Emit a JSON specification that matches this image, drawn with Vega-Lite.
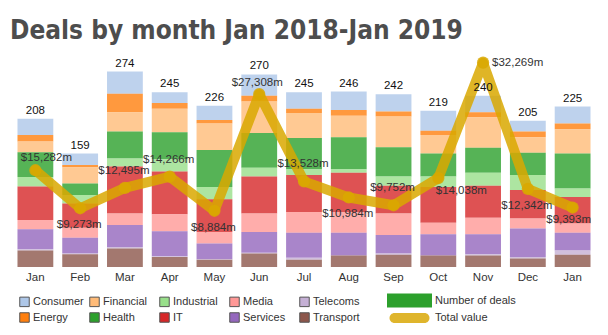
{
  "$schema": "https://vega.github.io/schema/vega-lite/v6.json",
  "width": 582,
  "height": 214,
  "autosize": {"type": "none"},
  "padding": {"left": 13, "right": 13, "top": 53, "bottom": 68},
  "background": "white",
  "title": {"text": "Deals by month Jan 2018-Jan 2019", "anchor": "start", "frame": "group", "font": "DejaVu Sans Condensed, Liberation Sans", "fontSize": 26, "fontWeight": "bold", "color": "#4d4d4d", "offset": 15, "dx": -3, "dy": 27, "baseline": "alphabetic"},
  "config": {"view": {"stroke": null}, "text": {"font": "Liberation Sans"}},
  "datasets": {
    "sectors": [
      {"month":"Jan 2018","sector":"Consumer","deals":23},{"month":"Jan 2018","sector":"Energy","deals":9},{"month":"Jan 2018","sector":"Financial","deals":15},{"month":"Jan 2018","sector":"Health","deals":35},{"month":"Jan 2018","sector":"Industrial","deals":13},{"month":"Jan 2018","sector":"IT","deals":47},{"month":"Jan 2018","sector":"Media","deals":13},{"month":"Jan 2018","sector":"Services","deals":28},{"month":"Jan 2018","sector":"Telecoms","deals":2},{"month":"Jan 2018","sector":"Transport","deals":23},
      {"month":"Feb 2018","sector":"Consumer","deals":16},{"month":"Feb 2018","sector":"Energy","deals":3},{"month":"Feb 2018","sector":"Financial","deals":23},{"month":"Feb 2018","sector":"Health","deals":16},{"month":"Feb 2018","sector":"Industrial","deals":12},{"month":"Feb 2018","sector":"IT","deals":34},{"month":"Feb 2018","sector":"Media","deals":14},{"month":"Feb 2018","sector":"Services","deals":22},{"month":"Feb 2018","sector":"Telecoms","deals":1},{"month":"Feb 2018","sector":"Transport","deals":18},
      {"month":"Mar 2018","sector":"Consumer","deals":31},{"month":"Mar 2018","sector":"Energy","deals":26},{"month":"Mar 2018","sector":"Financial","deals":27},{"month":"Mar 2018","sector":"Health","deals":38},{"month":"Mar 2018","sector":"Industrial","deals":11},{"month":"Mar 2018","sector":"IT","deals":66},{"month":"Mar 2018","sector":"Media","deals":16},{"month":"Mar 2018","sector":"Services","deals":31},{"month":"Mar 2018","sector":"Telecoms","deals":2},{"month":"Mar 2018","sector":"Transport","deals":26},
      {"month":"Apr 2018","sector":"Consumer","deals":15},{"month":"Apr 2018","sector":"Energy","deals":8},{"month":"Apr 2018","sector":"Financial","deals":33},{"month":"Apr 2018","sector":"Health","deals":38},{"month":"Apr 2018","sector":"Industrial","deals":17},{"month":"Apr 2018","sector":"IT","deals":60},{"month":"Apr 2018","sector":"Media","deals":24},{"month":"Apr 2018","sector":"Services","deals":35},{"month":"Apr 2018","sector":"Telecoms","deals":1},{"month":"Apr 2018","sector":"Transport","deals":14},
      {"month":"May 2018","sector":"Consumer","deals":20},{"month":"May 2018","sector":"Energy","deals":5},{"month":"May 2018","sector":"Financial","deals":37},{"month":"May 2018","sector":"Health","deals":52},{"month":"May 2018","sector":"Industrial","deals":17},{"month":"May 2018","sector":"IT","deals":46},{"month":"May 2018","sector":"Media","deals":16},{"month":"May 2018","sector":"Services","deals":22},{"month":"May 2018","sector":"Telecoms","deals":1},{"month":"May 2018","sector":"Transport","deals":10},
      {"month":"Jun 2018","sector":"Consumer","deals":30},{"month":"Jun 2018","sector":"Energy","deals":8},{"month":"Jun 2018","sector":"Financial","deals":44},{"month":"Jun 2018","sector":"Health","deals":49},{"month":"Jun 2018","sector":"Industrial","deals":12},{"month":"Jun 2018","sector":"IT","deals":52},{"month":"Jun 2018","sector":"Media","deals":26},{"month":"Jun 2018","sector":"Services","deals":29},{"month":"Jun 2018","sector":"Telecoms","deals":1},{"month":"Jun 2018","sector":"Transport","deals":19},
      {"month":"Jul 2018","sector":"Consumer","deals":23},{"month":"Jul 2018","sector":"Energy","deals":6},{"month":"Jul 2018","sector":"Financial","deals":35},{"month":"Jul 2018","sector":"Health","deals":44},{"month":"Jul 2018","sector":"Industrial","deals":8},{"month":"Jul 2018","sector":"IT","deals":52},{"month":"Jul 2018","sector":"Media","deals":29},{"month":"Jul 2018","sector":"Services","deals":35},{"month":"Jul 2018","sector":"Telecoms","deals":3},{"month":"Jul 2018","sector":"Transport","deals":10},
      {"month":"Aug 2018","sector":"Consumer","deals":26},{"month":"Aug 2018","sector":"Energy","deals":8},{"month":"Aug 2018","sector":"Financial","deals":30},{"month":"Aug 2018","sector":"Health","deals":45},{"month":"Aug 2018","sector":"Industrial","deals":5},{"month":"Aug 2018","sector":"IT","deals":55},{"month":"Aug 2018","sector":"Media","deals":29},{"month":"Aug 2018","sector":"Services","deals":32},{"month":"Aug 2018","sector":"Telecoms","deals":0},{"month":"Aug 2018","sector":"Transport","deals":16},
      {"month":"Sep 2018","sector":"Consumer","deals":24},{"month":"Sep 2018","sector":"Energy","deals":7},{"month":"Sep 2018","sector":"Financial","deals":43},{"month":"Sep 2018","sector":"Health","deals":41},{"month":"Sep 2018","sector":"Industrial","deals":13},{"month":"Sep 2018","sector":"IT","deals":39},{"month":"Sep 2018","sector":"Media","deals":30},{"month":"Sep 2018","sector":"Services","deals":26},{"month":"Sep 2018","sector":"Telecoms","deals":2},{"month":"Sep 2018","sector":"Transport","deals":17},
      {"month":"Oct 2018","sector":"Consumer","deals":28},{"month":"Oct 2018","sector":"Energy","deals":6},{"month":"Oct 2018","sector":"Financial","deals":26},{"month":"Oct 2018","sector":"Health","deals":32},{"month":"Oct 2018","sector":"Industrial","deals":15},{"month":"Oct 2018","sector":"IT","deals":50},{"month":"Oct 2018","sector":"Media","deals":16},{"month":"Oct 2018","sector":"Services","deals":30},{"month":"Oct 2018","sector":"Telecoms","deals":0},{"month":"Oct 2018","sector":"Transport","deals":16},
      {"month":"Nov 2018","sector":"Consumer","deals":23},{"month":"Nov 2018","sector":"Energy","deals":7},{"month":"Nov 2018","sector":"Financial","deals":43},{"month":"Nov 2018","sector":"Health","deals":35},{"month":"Nov 2018","sector":"Industrial","deals":18},{"month":"Nov 2018","sector":"IT","deals":45},{"month":"Nov 2018","sector":"Media","deals":23},{"month":"Nov 2018","sector":"Services","deals":28},{"month":"Nov 2018","sector":"Telecoms","deals":2},{"month":"Nov 2018","sector":"Transport","deals":16},
      {"month":"Dec 2018","sector":"Consumer","deals":15},{"month":"Dec 2018","sector":"Energy","deals":8},{"month":"Dec 2018","sector":"Financial","deals":22},{"month":"Dec 2018","sector":"Health","deals":31},{"month":"Dec 2018","sector":"Industrial","deals":21},{"month":"Dec 2018","sector":"IT","deals":40},{"month":"Dec 2018","sector":"Media","deals":14},{"month":"Dec 2018","sector":"Services","deals":40},{"month":"Dec 2018","sector":"Telecoms","deals":2},{"month":"Dec 2018","sector":"Transport","deals":12},
      {"month":"Jan 2019","sector":"Consumer","deals":24},{"month":"Jan 2019","sector":"Energy","deals":8},{"month":"Jan 2019","sector":"Financial","deals":34},{"month":"Jan 2019","sector":"Health","deals":49},{"month":"Jan 2019","sector":"Industrial","deals":12},{"month":"Jan 2019","sector":"IT","deals":37},{"month":"Jan 2019","sector":"Media","deals":13},{"month":"Jan 2019","sector":"Services","deals":25},{"month":"Jan 2019","sector":"Telecoms","deals":6},{"month":"Jan 2019","sector":"Transport","deals":17}
    ],
    "totals": [
      {"month":"Jan 2018","value":15282,"series":"Total value"},
      {"month":"Feb 2018","value":9273,"series":"Total value"},
      {"month":"Mar 2018","value":12495,"series":"Total value"},
      {"month":"Apr 2018","value":14266,"series":"Total value"},
      {"month":"May 2018","value":8884,"series":"Total value"},
      {"month":"Jun 2018","value":27308,"series":"Total value"},
      {"month":"Jul 2018","value":13528,"series":"Total value"},
      {"month":"Aug 2018","value":10984,"series":"Total value"},
      {"month":"Sep 2018","value":9752,"series":"Total value"},
      {"month":"Oct 2018","value":14038,"series":"Total value"},
      {"month":"Nov 2018","value":32269,"series":"Total value"},
      {"month":"Dec 2018","value":12342,"series":"Total value"},
      {"month":"Jan 2019","value":9393,"series":"Total value"}
    ]
  },
  "encoding": {
    "x": {"field": "month", "type": "nominal",
      "sort": ["Jan 2018","Feb 2018","Mar 2018","Apr 2018","May 2018","Jun 2018","Jul 2018","Aug 2018","Sep 2018","Oct 2018","Nov 2018","Dec 2018","Jan 2019"],
      "scale": {"paddingInner": 0.2, "paddingOuter": 0.1},
      "axis": {"title": null, "domain": false, "ticks": false, "labelAngle": 0, "labelFontSize": 11.5, "labelFont": "Liberation Sans", "labelColor": "#333", "labelPadding": 4, "labelExpr": "slice(datum.label, 0, 3)"}}
  },
  "layer": [
    {
      "data": {"name": "sectors"},
      "transform": [{"calculate": "indexof(['Transport','Telecoms','Services','Media','IT','Industrial','Health','Financial','Energy','Consumer'], datum.sector)", "as": "stackIdx"}],
      "mark": {"type": "bar", "opacity": 0.8},
      "encoding": {
        "y": {"field": "deals", "type": "quantitative", "stack": "zero", "scale": {"domain": [0, 300], "nice": false}, "axis": null},
        "color": {"field": "sector", "type": "nominal",
          "scale": {"domain": ["Consumer","Financial","Industrial","Media","Telecoms","Energy","Health","IT","Services","Transport"],
                    "range": ["#aec7e8","#ffbb78","#98df8a","#ff9896","#c5b0d5","#ff7f0e","#2ca02c","#d62728","#9467bd","#8c564b"]},
          "legend": {"orient": "none", "legendX": 6, "legendY": 243, "title": null, "columns": 5, "direction": "horizontal", "gridAlign": "all", "columnPadding": 3, "rowPadding": 1, "symbolType": "square", "symbolSize": 90, "symbolOpacity": 1, "symbolStrokeColor": "#555", "symbolStrokeWidth": 1, "labelFontSize": 11, "labelFont": "Liberation Sans", "labelColor": "#333", "labelOffset": 3}},
        "order": {"field": "stackIdx", "type": "quantitative", "sort": "ascending"}
      }
    },
    {
      "data": {"name": "totals"},
      "transform": [{"calculate": "'$' + format(datum.value, ',') + 'm'", "as": "label"}],
      "encoding": {
        "y": {"field": "value", "type": "quantitative", "scale": {"domain": [0, 33800], "nice": false}, "axis": null}
      },
      "layer": [
        {
          "mark": {"type": "line", "strokeWidth": 10, "opacity": 0.85, "strokeJoin": "round", "strokeCap": "round"},
          "encoding": {
            "stroke": {"field": "series", "type": "nominal",
              "scale": {"domain": ["Number of deals", "Total value"], "range": ["#2ca02c", "#d9a800"]},
              "legend": {"orient": "none", "legendX": 389.5, "legendY": 240.5, "title": null, "direction": "vertical",
                "symbolType": "M-3.214,-1H3.214V1H-3.214Z", "symbolSize": 196, "symbolStrokeWidth": 0, "symbolOpacity": 1,
                "labelOffset": 18.5, "rowPadding": 3.5, "labelFontSize": 11, "labelFont": "Liberation Sans", "labelColor": "#333",
                "encode": {"symbols": {"update": {
                  "shape": {"signal": "datum.value === 'Total value' ? 'M-2.143,-0.714H2.143A0.714,0.714,0,0,1,2.143,0.714H-2.143A0.714,0.714,0,0,1,-2.143,-0.714Z' : 'M-3.214,-1H3.214V1H-3.214Z'"},
                  "fill": {"signal": "datum.value === 'Total value' ? '#dfb52c' : '#2ca02c'"},
                  "strokeWidth": {"value": 0},
                  "opacity": {"value": 1}
                }}}}}
          }
        },
        {"mark": {"type": "point", "filled": true, "size": 150, "color": "#d9a800", "opacity": 0.85}},
        {"transform": [{"filter": {"field": "month", "oneOf": ["Mar 2018","Apr 2018","Jul 2018","Sep 2018"]}}],
         "mark": {"type": "text", "dy": -17, "dx": -1, "fontSize": 11.5, "color": "#333"}, "encoding": {"text": {"field": "label"}}},
        {"transform": [{"filter": {"field": "month", "oneOf": ["Jan 2018"]}}],
         "mark": {"type": "text", "dy": -12, "dx": 11, "fontSize": 11.5, "color": "#333"}, "encoding": {"text": {"field": "label"}}},
        {"transform": [{"filter": {"field": "month", "oneOf": ["Jun 2018"]}}],
         "mark": {"type": "text", "dy": -11, "dx": -2, "fontSize": 11.5, "color": "#333"}, "encoding": {"text": {"field": "label"}}},
        {"transform": [{"filter": {"field": "month", "oneOf": ["Feb 2018","May 2018","Aug 2018","Dec 2018"]}}],
         "mark": {"type": "text", "dy": 17, "dx": -1, "fontSize": 11.5, "color": "#333"}, "encoding": {"text": {"field": "label"}}},
        {"transform": [{"filter": {"field": "month", "oneOf": ["Jan 2019"]}}],
         "mark": {"type": "text", "dy": 12, "dx": -4, "fontSize": 11.5, "color": "#333"}, "encoding": {"text": {"field": "label"}}},
        {"transform": [{"filter": {"field": "month", "oneOf": ["Oct 2018"]}}],
         "mark": {"type": "text", "dy": 13, "dx": 23, "fontSize": 11.5, "color": "#333"}, "encoding": {"text": {"field": "label"}}},
        {"transform": [{"filter": {"field": "month", "oneOf": ["Nov 2018"]}}],
         "mark": {"type": "text", "align": "left", "dy": 0, "dx": 9, "fontSize": 11.5, "color": "#333"}, "encoding": {"text": {"field": "label"}}}
      ]
    },
    {
      "data": {"name": "sectors"},
      "mark": {"type": "text", "baseline": "bottom", "dy": -3, "fontSize": 11.5, "color": "#111"},
      "encoding": {
        "y": {"aggregate": "sum", "field": "deals", "type": "quantitative", "scale": {"domain": [0, 300], "nice": false}, "axis": null},
        "text": {"aggregate": "sum", "field": "deals", "type": "quantitative"}
      }
    }
  ],
  "resolve": {"scale": {"y": "independent"}}
}
